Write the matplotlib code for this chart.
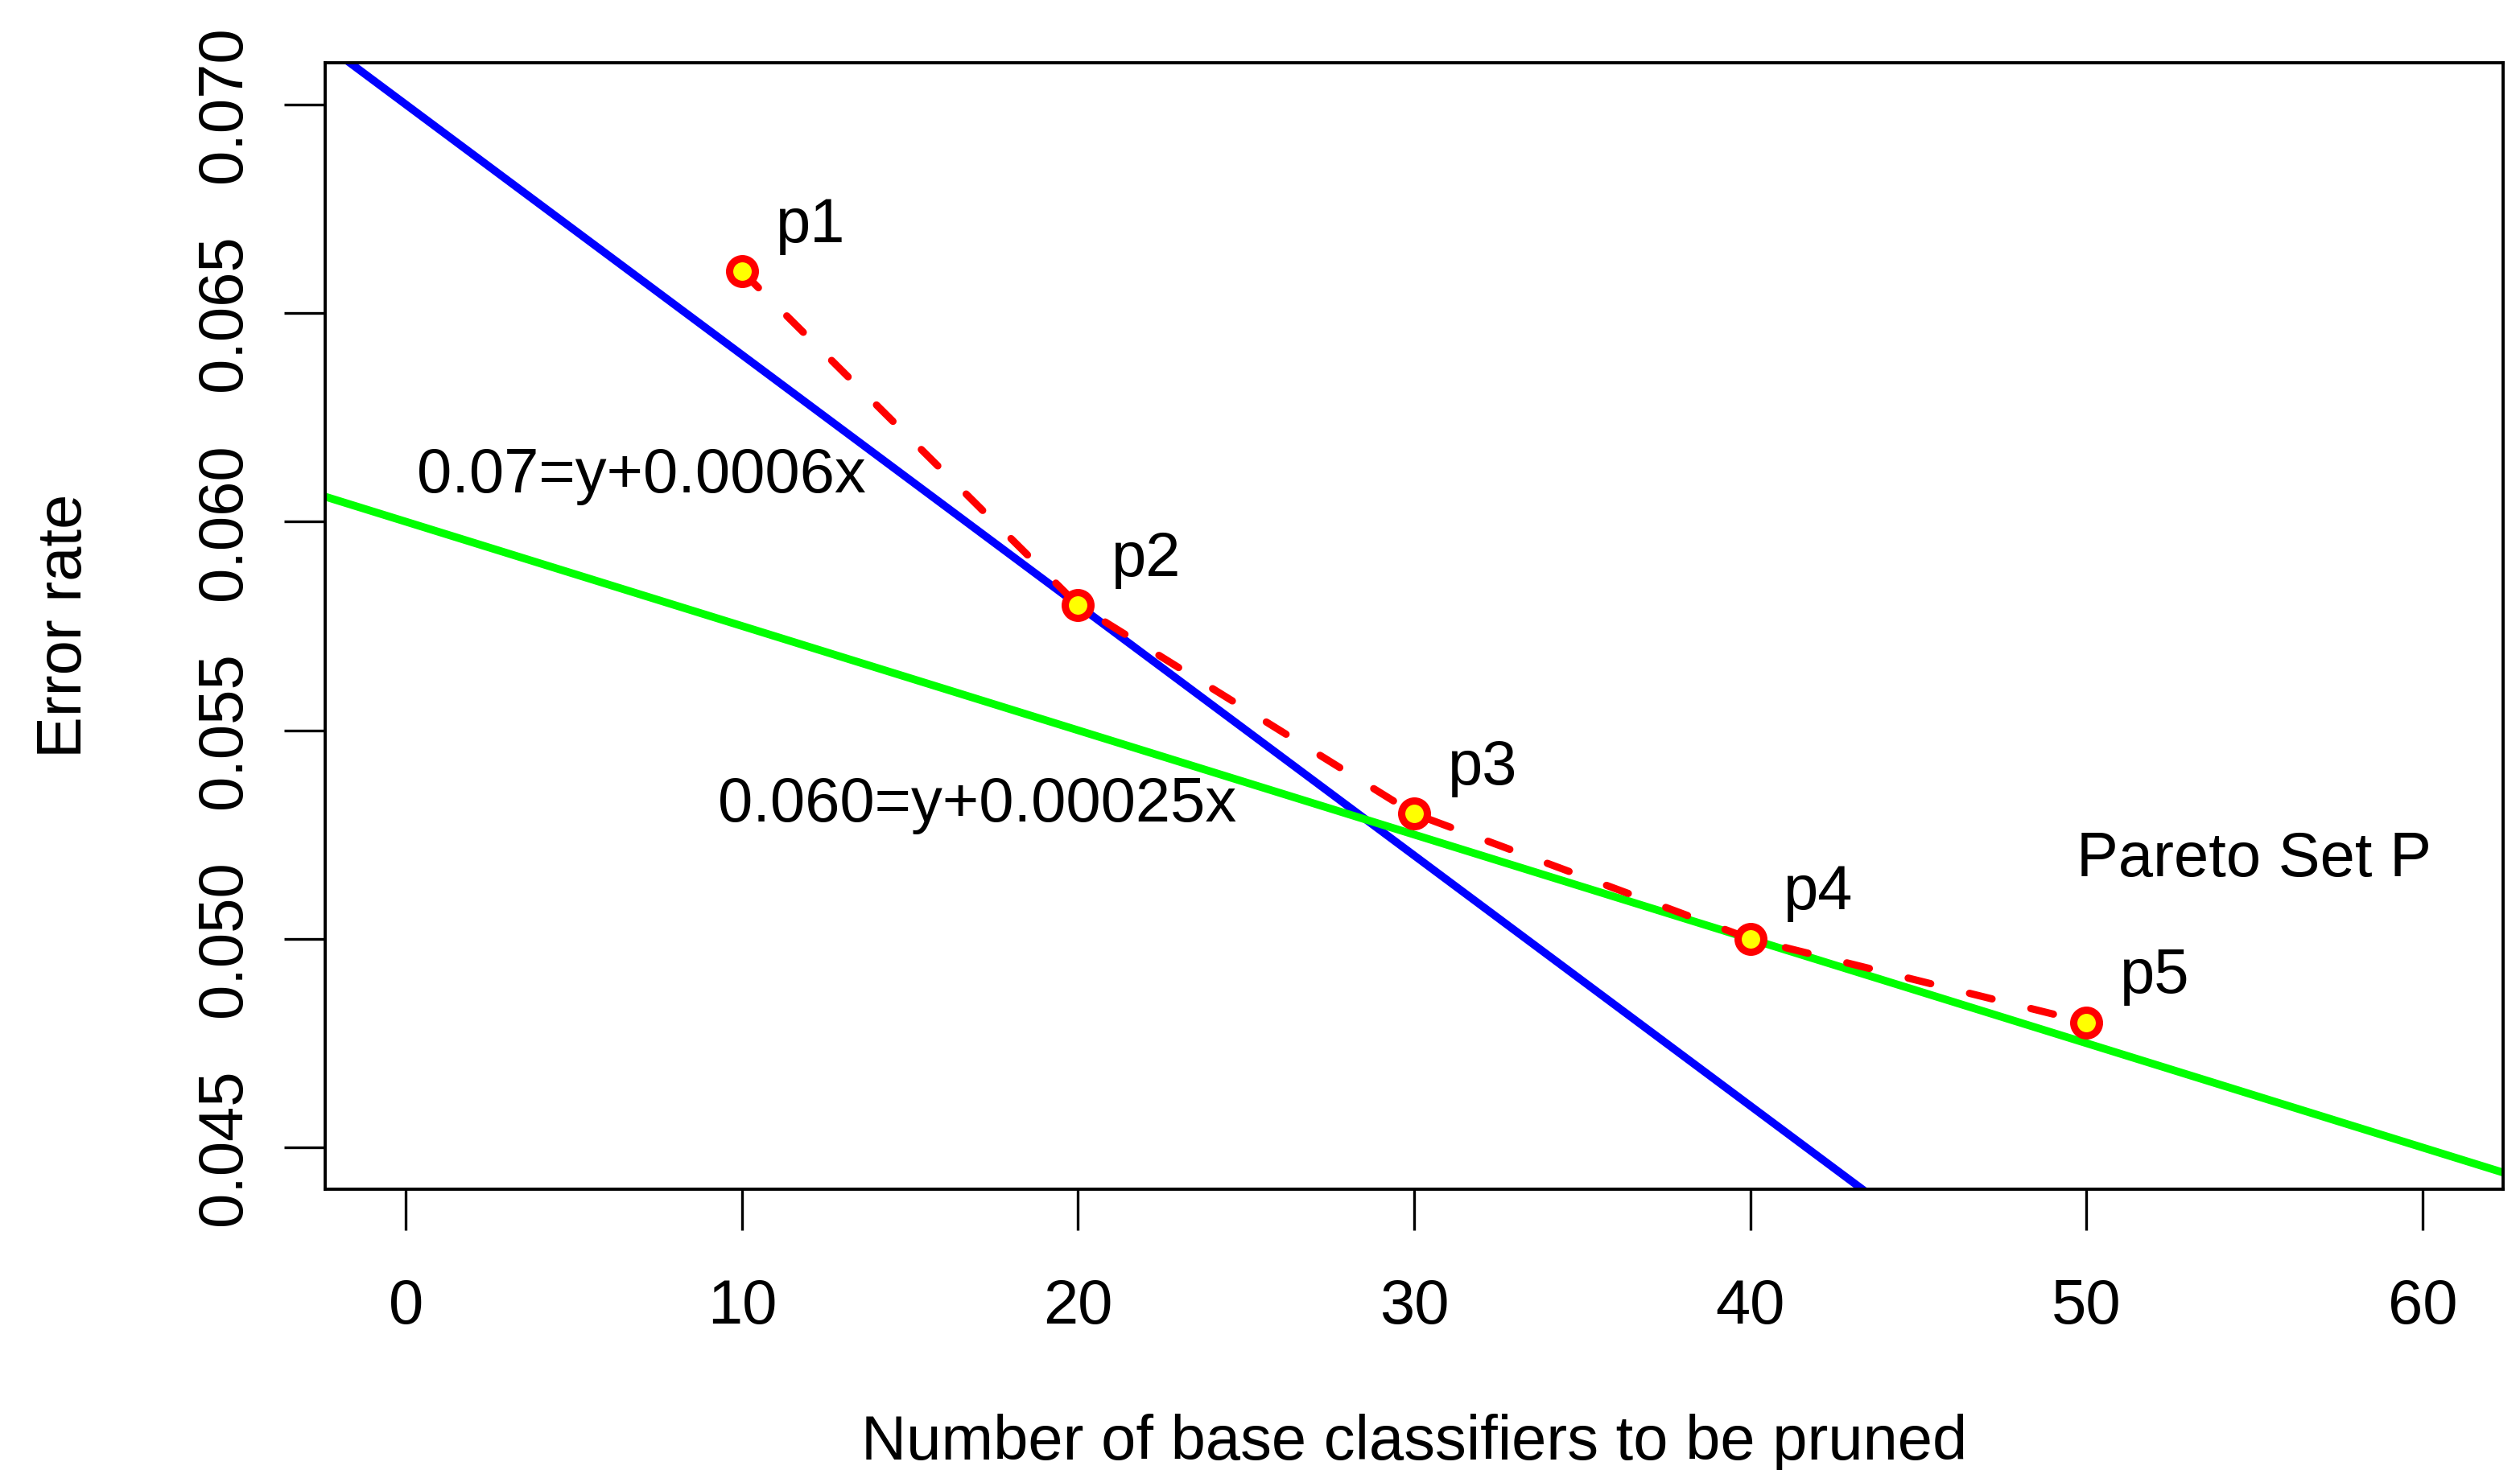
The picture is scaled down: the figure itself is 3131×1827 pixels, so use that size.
import numpy as np
import matplotlib.pyplot as plt

plt.rcParams['font.family'] = ['Liberation Sans', 'DejaVu Sans']

# pareto points
px = [10, 20, 30, 40, 50]
py = [0.066, 0.058, 0.053, 0.050, 0.048]
plabels = ['p1', 'p2', 'p3', 'p4', 'p5']

# the two supporting lines: c = y + w*x
blue_c, blue_w = 0.07, 0.0006
green_c, green_w = 0.060, 0.00025

xticks = [0, 10, 20, 30, 40, 50, 60]
yticks = [0.045, 0.050, 0.055, 0.060, 0.065, 0.070]

fs = 56

fig = plt.figure(figsize=(31.31, 18.27), dpi=100)
ax = fig.add_axes([404/3131, 1 - 1478/1827, (3110 - 404)/3131, (1478 - 78)/1827])

xs = np.linspace(-5, 65, 200)
ax.plot(xs, blue_c - blue_w * xs, color='#0000FF', lw=7, solid_capstyle='butt')
ax.plot(xs, green_c - green_w * xs, color='#00FF00', lw=7, solid_capstyle='butt')
ax.plot(px, py, color='#FF0000', lw=6.5, linestyle=(0, (3.2, 5.5)), dash_capstyle='round')
ax.plot(px, py, linestyle='none', marker='o', markersize=23,
        markerfacecolor='#FFFF00', markeredgecolor='#FF0000', markeredgewidth=6.5)

for x, y, s in zip(px, py, plabels):
    ax.text(x + 1, y + 0.0011, s, fontsize=fs, ha='left', va='center')

ax.text(7, 0.0611, '0.07=y+0.0006x', fontsize=fs, ha='center', va='center')
ax.text(17, 0.0532, '0.060=y+0.00025x', fontsize=fs, ha='center', va='center')
ax.text(55, 0.0519, 'Pareto Set P', fontsize=fs, ha='center', va='center')

ax.set_xlim(-2.4, 62.4)
ax.set_ylim(0.044, 0.071)
ax.set_xticks(xticks)
ax.set_xticklabels([str(t) for t in xticks])
ax.set_yticks(yticks)
ax.set_yticklabels(['%.3f' % t for t in yticks], rotation=90, va='center')
ax.tick_params(length=37, width=2.4, labelsize=fs, direction='out')
ax.tick_params(axis='x', pad=42)
ax.tick_params(axis='y', pad=27)
for sp in ax.spines.values():
    sp.set_linewidth(2.8)

fig.text((404 + 3110) / 2 / 3131, 1 - 1794/1827, 'Number of base classifiers to be pruned',
         fontsize=fs, ha='center', va='center')
fig.text(80/3131, 1 - ((78 + 1478) / 2)/1827, 'Error rate', fontsize=fs,
         ha='center', va='center', rotation=90)

fig.savefig('out.png', dpi=100)
